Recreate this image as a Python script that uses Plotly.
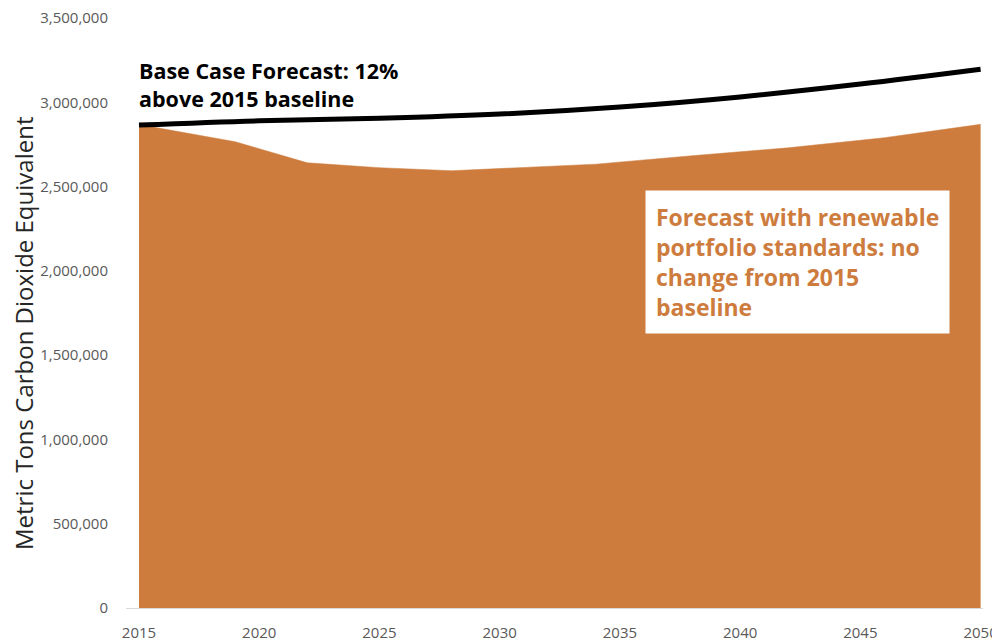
import plotly.graph_objects as go

# Forecast with renewable portfolio standards (area)
rps_years = [2015, 2019, 2022, 2025, 2028, 2031, 2034, 2038, 2042, 2046, 2050]
rps_values = [2868000, 2766000, 2641000, 2612000, 2594000, 2612000, 2633000, 2683000, 2730000, 2790000, 2869000]

# Base case forecast (line)
base_years = [2015, 2020, 2025, 2030, 2035, 2040, 2045, 2050]
base_values = [2865000, 2890000, 2905000, 2930000, 2972000, 3032000, 3108000, 3196000]

y_ticks = [0, 500000, 1000000, 1500000, 2000000, 2500000, 3000000, 3500000]
x_ticks = [2015, 2020, 2025, 2030, 2035, 2040, 2045, 2050]

ORANGE = "#CD7C3E"
FONT = "Open Sans"

fig = go.Figure()
fig.add_trace(go.Scatter(
    x=rps_years, y=rps_values, mode="lines", fill="tozeroy",
    line=dict(color=ORANGE, width=0.5), fillcolor=ORANGE,
    hoverinfo="skip", showlegend=False))
fig.add_trace(go.Scatter(
    x=base_years, y=base_values, mode="lines",
    line=dict(color="#000000", width=5, shape="spline"),
    showlegend=False))

fig.update_layout(
    width=992, height=633,
    margin=dict(l=118, r=17, t=10, b=33, autoexpand=False),
    paper_bgcolor="white", plot_bgcolor="white",
    font=dict(family=FONT, color="#595959", size=15),
    xaxis=dict(range=[2014.46, 2050.1], tickvals=x_ticks, showgrid=False,
               zeroline=False, showline=False, ticks="outside", ticklen=11,
               tickcolor="rgba(0,0,0,0)", tickfont=dict(size=15, color="#595959"),
               automargin=False, ticklabeloverflow="allow"),
    yaxis=dict(range=[0, 3500000], tickvals=y_ticks, tickformat=",d", showgrid=False,
               zeroline=True, zerolinecolor="#D9D9D9", zerolinewidth=1,
               showline=False, ticks="outside", ticklen=14, tickcolor="rgba(0,0,0,0)",
               tickfont=dict(size=15, color="#595959"), automargin=False,
               ticklabeloverflow="allow"),
    annotations=[
        dict(text="Metric Tons Carbon Dioxide Equivalent", textangle=-90,
             xref="paper", yref="paper", x=(23 - 126) / 857, y=(608 - 334) / 590,
             xanchor="center", yanchor="middle", showarrow=False,
             font=dict(family=FONT, size=24, color="#262626")),
        dict(text="<b>Base Case Forecast: 12%<br>above 2015 baseline</b>",
             xref="x", yref="y", x=2014.9, y=3285000, xanchor="left", yanchor="top",
             align="left", showarrow=False,
             font=dict(family=FONT, size=21.5, color="#000000")),
        dict(text="<b>Forecast with renewable<br>portfolio standards: no<br>change from 2015<br>baseline</b>",
             xref="x", yref="y", x=2036.04, y=2479000, xanchor="left", yanchor="top",
             align="left", showarrow=False, bgcolor="white", borderpad=10,
             font=dict(family=FONT, size=23, color=ORANGE)),
    ],
)

fig.write_html("out.html")
